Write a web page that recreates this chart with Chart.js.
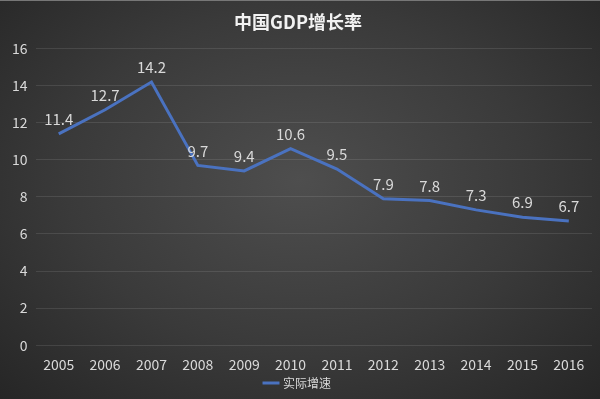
<!DOCTYPE html>
<html>
<head>
<meta charset="utf-8">
<script src="https://cdn.jsdelivr.net/npm/chart.js@4"></script>
<style>
  html, body { margin: 0; padding: 0; background: #2a2a2a; }
  #wrap {
    width: 600px; height: 399px;
    background: radial-gradient(ellipse at 50% 45%, #4e4e4e 0%, #3a3a3a 55%, #262626 100%);
    border-top: 1px solid #777;
    box-sizing: border-box;
  }
</style>
</head>
<body>
<div id="wrap"><canvas id="grafica" width="600" height="398"></canvas></div>
<script>
var anios = ["2005","2006","2007","2008","2009","2010","2011","2012","2013","2014","2015","2016"];
var crecimiento = [11.4, 12.7, 14.2, 9.7, 9.4, 10.6, 9.5, 7.9, 7.8, 7.3, 6.9, 6.7];
var titulo = "中国GDP增长率";
var serie = "实际增速";

var fuente = "'Noto Sans CJK SC', 'Noto Sans', sans-serif";

// etiquetas de valor sobre cada punto
var etiquetas = {
  id: 'etiquetas',
  afterDatasetsDraw: function(chart){
    var ctx = chart.ctx;
    var meta = chart.getDatasetMeta(0);
    ctx.save();
    ctx.fillStyle = "#d9d9d9";
    ctx.font = "15px " + fuente;
    ctx.textAlign = "center";
    ctx.textBaseline = "bottom";
    meta.data.forEach(function(p, i){
      ctx.fillText(crecimiento[i].toFixed(1), p.x, p.y - 7);
    });
    ctx.restore();
  }
};

var contenedor = document.getElementById('grafica').getContext('2d');
var miGrafica = new Chart(contenedor, {
  type: "line",
  data: {
    labels: anios,
    datasets: [{
      label: serie,
      data: crecimiento,
      borderColor: "#4a72c0",
      backgroundColor: "#4a72c0",
      borderWidth: 3,
      pointRadius: 0,
      tension: 0,
      fill: false
    }]
  },
  options: {
    responsive: false,
    animation: false,
    layout: { padding: { left: 4, right: 8, top: 0, bottom: 0 } },
    plugins: {
      title: {
        display: true,
        text: titulo,
        color: "#f2f2f2",
        font: { size: 18, weight: "bold", family: fuente },
        padding: { top: 10, bottom: 16 }
      },
      legend: {
        position: "bottom",
        labels: {
          color: "#d9d9d9",
          font: { size: 12, family: fuente },
          usePointStyle: true,
          pointStyle: "line",
          boxWidth: 22,
          padding: 1
        }
      },
      tooltip: { enabled: false }
    },
    scales: {
      x: {
        offset: true,
        grid: { display: false },
        border: { display: false },
        ticks: { color: "#d9d9d9", font: { size: 14, family: fuente }, padding: 3, maxRotation: 0 }
      },
      y: {
        min: 0,
        max: 16,
        ticks: { stepSize: 2, color: "#d9d9d9", font: { size: 14, family: fuente }, padding: 8 },
        grid: { color: "rgba(255,255,255,0.10)", drawTicks: false },
        border: { display: false }
      }
    }
  },
  plugins: [etiquetas]
});
</script>
</body>
</html>
